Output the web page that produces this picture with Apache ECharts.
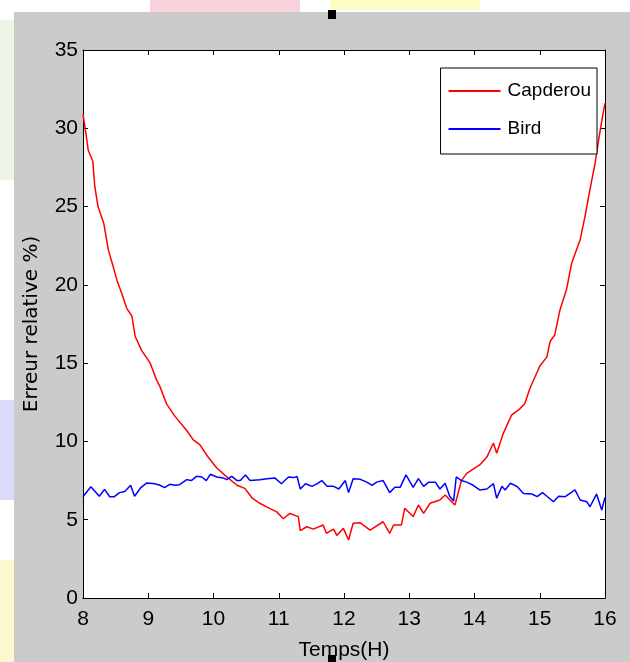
<!DOCTYPE html>
<html>
<head>
<meta charset="utf-8">
<script src="https://cdn.jsdelivr.net/npm/echarts@6/dist/echarts.min.js"></script>
<style>
  html, body { margin: 0; padding: 0; background: #ffffff; }
  #wrap { position: relative; width: 630px; height: 662px; overflow: hidden; }
  .blk { position: absolute; }
  #chart { position: absolute; left: 0; top: 0; width: 630px; height: 662px; }
</style>
</head>
<body>
<div id="wrap">
  <!-- bits of the slide behind the figure -->
  <div class="blk" style="left:150px;top:0;width:150px;height:12px;background:#f9d3dc"></div>
  <div class="blk" style="left:330px;top:0;width:150px;height:10px;background:#fdfbc6"></div>
  <div class="blk" style="left:0;top:400px;width:14px;height:100px;background:#dcdcfa"></div>
  <div class="blk" style="left:0;top:560px;width:14px;height:102px;background:#fbf8cf"></div>
  <div class="blk" style="left:0;top:20px;width:14px;height:160px;background:#eef5e6"></div>
  <!-- figure background -->
  <div class="blk" style="left:14px;top:12px;width:616px;height:650px;background:#cbcbcb"></div>
  <div id="chart"></div>
  <div class="blk" style="left:328px;top:10px;width:8px;height:9px;background:#000"></div>
  <div class="blk" style="left:328px;top:655px;width:8px;height:7px;background:#000"></div>
</div>
<script>
// Capderou model error (%) vs time (h)
const capTime = [8.00, 8.04, 8.08, 8.15, 8.18, 8.23, 8.32, 8.39, 8.46, 8.52, 8.59, 8.67, 8.75, 8.80, 8.90,
  9.03, 9.13, 9.18, 9.28, 9.41, 9.59, 9.69, 9.79, 9.90, 10.05, 10.20, 10.36, 10.48, 10.59, 10.71,
  10.82, 10.97, 11.07, 11.17, 11.30, 11.33, 11.43, 11.53, 11.68, 11.73, 11.84, 11.89, 11.99, 12.07,
  12.14, 12.25, 12.40, 12.60, 12.70, 12.76, 12.88, 12.93, 13.06, 13.14, 13.22, 13.32, 13.47, 13.55,
  13.70, 13.80, 13.88, 14.08, 14.19, 14.29, 14.34, 14.44, 14.57, 14.70, 14.77, 14.85, 15.00, 15.11,
  15.16, 15.23, 15.31, 15.41, 15.49, 15.62, 15.69, 15.77, 15.85, 15.90, 15.96, 16.00];
const capErr = [30.9, 29.8, 28.6, 27.9, 26.3, 25.0, 23.9, 22.2, 21.2, 20.3, 19.5, 18.5, 18.0, 16.7, 15.8,
  15.0, 13.9, 13.5, 12.4, 11.6, 10.7, 10.1, 9.8, 9.1, 8.3, 7.75, 7.2, 7.0, 6.4, 6.05,
  5.8, 5.5, 5.06, 5.4, 5.2, 4.3, 4.55, 4.4, 4.66, 4.13, 4.4, 4.0, 4.45, 3.7,
  4.77, 4.8, 4.34, 4.87, 4.13, 4.66, 4.66, 5.73, 5.2, 5.94, 5.4, 6.05, 6.26, 6.58,
  5.94, 7.5, 7.96, 8.5, 9.0, 9.9, 9.24, 10.5, 11.7, 12.1, 12.4, 13.4, 14.8, 15.4,
  16.4, 16.8, 18.4, 19.7, 21.4, 22.9, 24.3, 26.1, 27.8, 29.2, 30.7, 31.6];

// Bird model error (%) vs time (h)
const birdTime = [8.00, 8.12, 8.25, 8.33, 8.41, 8.48, 8.56, 8.64, 8.73, 8.79, 8.89, 8.98, 9.10, 9.18,
  9.25, 9.33, 9.41, 9.48, 9.59, 9.66, 9.74, 9.82, 9.89, 9.95, 10.05, 10.15, 10.20, 10.28, 10.36,
  10.41, 10.49, 10.56, 10.71, 10.82, 10.94, 11.04, 11.15, 11.23, 11.28, 11.33, 11.41, 11.51, 11.59,
  11.66, 11.74, 11.84, 11.92, 12.02, 12.07, 12.14, 12.25, 12.35, 12.43, 12.50, 12.60, 12.70, 12.78,
  12.86, 12.95, 13.06, 13.14, 13.22, 13.30, 13.40, 13.47, 13.55, 13.62, 13.68, 13.72, 13.80, 13.88,
  13.98, 14.08, 14.19, 14.29, 14.34, 14.42, 14.47, 14.55, 14.65, 14.75, 14.88, 14.96, 15.04, 15.11,
  15.21, 15.29, 15.39, 15.54, 15.62, 15.72, 15.77, 15.87, 15.95, 16.00];
const birdErr = [6.47, 7.1, 6.5, 6.94, 6.47, 6.47, 6.73, 6.8, 7.2, 6.5, 7.07, 7.35, 7.3, 7.2,
  7.05, 7.26, 7.2, 7.24, 7.56, 7.5, 7.77, 7.73, 7.5, 7.9, 7.73, 7.67, 7.56, 7.77, 7.5,
  7.5, 7.86, 7.5, 7.56, 7.62, 7.67, 7.3, 7.73, 7.69, 7.77, 6.96, 7.3, 7.13, 7.3,
  7.5, 7.13, 7.13, 6.96, 7.5, 6.73, 7.62, 7.58, 7.4, 7.2, 7.4, 7.5, 6.73, 7.07,
  7.07, 7.86, 7.07, 7.62, 7.13, 7.4, 7.4, 6.96, 7.33, 6.5, 6.2, 7.73, 7.5, 7.4,
  7.2, 6.9, 6.96, 7.3, 6.37, 7.13, 6.9, 7.33, 7.13, 6.68, 6.64, 6.47, 6.73, 6.5,
  6.15, 6.5, 6.47, 6.9, 6.26, 6.15, 5.83, 6.64, 5.62, 6.43];

const xTicks = [8, 9, 10, 11, 12, 13, 14, 15, 16];
const yTicks = [0, 5, 10, 15, 20, 25, 30, 35];

const sans = "'Liberation Sans', Arial, sans-serif";
const axisLine = { show: true, onZero: false, lineStyle: { color: '#000', width: 1 } };
const tick = { show: true, inside: true, length: 5, lineStyle: { color: '#000', width: 1 } };

const myChart = echarts.init(document.getElementById('chart'));
const option = {
  backgroundColor: 'transparent',
  animation: false,
  grid: {
    left: 83, right: 25, top: 50, bottom: 64, outerBoundsMode: 'none',
    show: true, backgroundColor: '#fff', borderWidth: 0
  },
  legend: {
    orient: 'vertical',
    right: 33,
    top: 68,
    padding: [10, 6, 12, 8],
    icon: 'rect',
    itemWidth: 52,
    itemHeight: 2,
    itemGap: 12,
    backgroundColor: '#fff',
    borderColor: '#000',
    borderWidth: 1,
    borderRadius: 0,
    textStyle: { fontFamily: sans, fontSize: 19, lineHeight: 26, color: '#000', padding: [0, 0, 0, 2] },
    data: ['Capderou', 'Bird']
  },
  xAxis: [
    {
      type: 'value', min: xTicks[0], max: xTicks[xTicks.length - 1], interval: 1,
      name: 'Temps(H)', nameLocation: 'middle', nameGap: 42,
      nameTextStyle: { fontFamily: sans, fontSize: 21, color: '#000' },
      axisLine, axisTick: tick, splitLine: { show: false },
      axisLabel: { margin: 11, fontFamily: sans, fontSize: 21, color: '#000' }
    },
    {
      type: 'value', position: 'top', min: xTicks[0], max: xTicks[xTicks.length - 1], interval: 1,
      axisLine, axisTick: tick, splitLine: { show: false }, axisLabel: { show: false }
    }
  ],
  yAxis: [
    {
      type: 'value', min: yTicks[0], max: yTicks[yTicks.length - 1], interval: 5,
      name: 'Erreur relative %)', nameLocation: 'middle', nameGap: 41, nameRotate: 90,
      nameTextStyle: { fontFamily: "'DejaVu Sans', sans-serif", fontSize: 20, color: '#000' },
      axisLine, axisTick: tick, splitLine: { show: false },
      axisLabel: { margin: 5, fontFamily: sans, fontSize: 21, color: '#000' }
    },
    {
      type: 'value', position: 'right', min: yTicks[0], max: yTicks[yTicks.length - 1], interval: 5,
      axisLine, axisTick: tick, splitLine: { show: false }, axisLabel: { show: false }
    }
  ],
  series: [
    {
      name: 'Capderou', type: 'line', symbol: 'none',
      data: capTime.map((t, i) => [t, capErr[i]]),
      lineStyle: { color: '#ff0000', width: 1.5 }, itemStyle: { color: '#ff0000' }
    },
    {
      name: 'Bird', type: 'line', symbol: 'none',
      data: birdTime.map((t, i) => [t, birdErr[i]]),
      lineStyle: { color: '#0000ff', width: 1.5 }, itemStyle: { color: '#0000ff' }
    }
  ]
};
myChart.setOption(option);
</script>
</body>
</html>
